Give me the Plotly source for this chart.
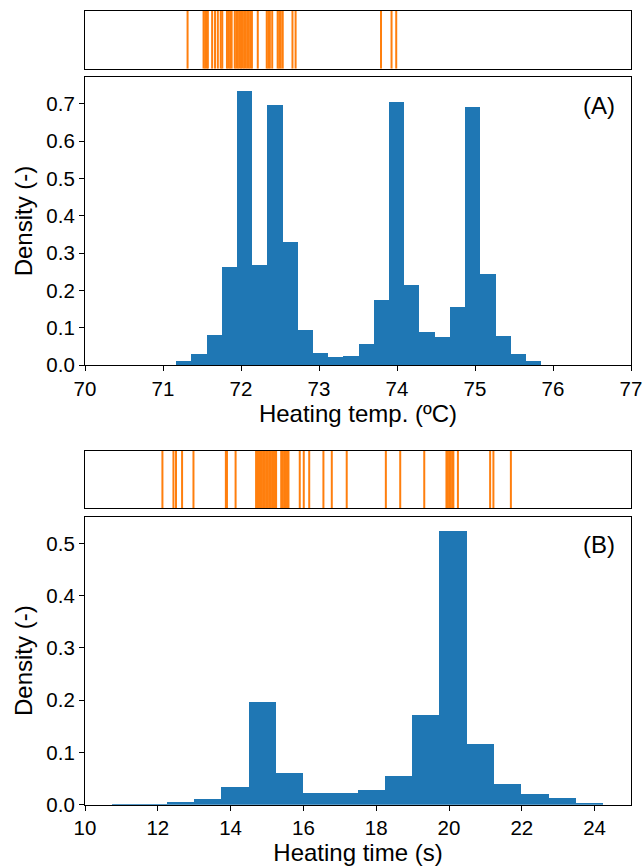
import numpy as np
import plotly.graph_objects as go

# ---------------- data ----------------
# Panel A: heating temperature histogram (density)
temp_bin_start = 71.168
temp_bin_width = 0.195
temp_density = [0.0107, 0.0295, 0.080, 0.2625, 0.734, 0.268, 0.696, 0.329,
                0.094, 0.033, 0.0214, 0.024, 0.057, 0.174, 0.705, 0.214,
                0.088, 0.075, 0.156, 0.691, 0.244, 0.078, 0.0295, 0.0107]
temp_rug = [71.315, 71.52, 71.54, 71.56, 71.575, 71.63, 71.667, 71.703,
            71.74, 71.76, 71.82, 71.84, 71.86, 71.88,
            71.92, 71.94, 71.96, 71.98, 72.00, 72.02, 72.04, 72.06, 72.08,
            72.10, 72.12, 72.14, 72.215, 72.33, 72.35, 72.37, 72.40,
            72.47, 72.49, 72.51, 72.535, 72.66, 72.70, 73.795, 73.93, 73.99]
temp_ticks = [70, 71, 72, 73, 74, 75, 76, 77]
temp_yticks = [0.0, 0.1, 0.2, 0.3, 0.4, 0.5, 0.6, 0.7]

# Panel B: heating time histogram (density)
time_bin_start = 10.75
time_bin_width = 0.749
time_density = [0.0013, 0.0013, 0.005, 0.011, 0.034, 0.198, 0.0605, 0.0223,
                0.0223, 0.028, 0.0548, 0.173, 0.525, 0.116, 0.0395, 0.0204,
                0.0127, 0.0045]
time_rug = [12.127, 12.43, 12.50, 12.667, 12.98, 13.87, 13.90, 14.137,
            14.70, 14.74, 14.78, 14.82, 14.86, 14.90, 14.94, 14.98, 15.02,
            15.06, 15.10, 15.14, 15.18, 15.22, 15.25,
            15.39, 15.43, 15.47, 15.51, 15.55, 15.59,
            15.90, 16.01, 16.16, 16.55, 16.78, 17.19, 18.265, 18.66, 19.32,
            19.93, 19.97, 20.01, 20.05, 20.09, 20.12, 20.245,
            21.13, 21.22, 21.70]
time_ticks = [10, 12, 14, 16, 18, 20, 22, 24]
time_yticks = [0.0, 0.1, 0.2, 0.3, 0.4, 0.5]

# ---------------- figure ----------------
W, H = 644, 866
BLUE = "#1f77b4"
ORANGE = "#ff7f0e"
FONT = "Liberation Sans, Arial, sans-serif"


def py(p):
    return 1 - p / H


def rug_xy(vals):
    xs, ys = [], []
    for v in vals:
        xs += [v, v, None]
        ys += [0, 1, None]
    return xs, ys


fig = go.Figure()

# Histograms
t_centers = temp_bin_start + temp_bin_width * (np.arange(len(temp_density)) + 0.5)
fig.add_trace(go.Bar(x=t_centers, y=temp_density, width=temp_bin_width,
                     marker=dict(color=BLUE, line=dict(width=0)),
                     xaxis="x2", yaxis="y2", showlegend=False))
h_centers = time_bin_start + time_bin_width * (np.arange(len(time_density)) + 0.5)
fig.add_trace(go.Bar(x=h_centers, y=time_density, width=time_bin_width,
                     marker=dict(color=BLUE, line=dict(width=0)),
                     xaxis="x4", yaxis="y4", showlegend=False))

# Rugs
rx, ry = rug_xy(temp_rug)
fig.add_trace(go.Scatter(x=rx, y=ry, mode="lines", line=dict(color=ORANGE, width=2),
                         xaxis="x", yaxis="y", showlegend=False, hoverinfo="skip"))
rx, ry = rug_xy(time_rug)
fig.add_trace(go.Scatter(x=rx, y=ry, mode="lines", line=dict(color=ORANGE, width=2),
                         xaxis="x3", yaxis="y3", showlegend=False, hoverinfo="skip"))

xdom = [85 / W, 631 / W]
axis_common = dict(showline=True, linecolor="black", linewidth=1.1, mirror=True,
                   showgrid=False, zeroline=False, automargin=False)
tick_common = dict(ticks="outside", ticklen=5, tickwidth=1.1, tickcolor="black",
                   tickfont=dict(family=FONT, size=20.5, color="black"))
title_font = dict(family=FONT, size=24, color="black")

fig.update_layout(
    width=W, height=H,
    margin=dict(l=0, r=0, t=0, b=0, autoexpand=False),
    paper_bgcolor="white", plot_bgcolor="white",
    bargap=0,
    # rug A
    xaxis=dict(domain=xdom, range=[70, 77], anchor="y", showticklabels=False,
               ticks="", **axis_common),
    yaxis=dict(domain=[py(68.7), py(11)], range=[0, 1], anchor="x",
               showticklabels=False, ticks="", **axis_common),
    # hist A
    xaxis2=dict(domain=xdom, range=[70, 77], anchor="y2", tickvals=temp_ticks,
                ticktext=[str(t) for t in temp_ticks],
                title=dict(text="Heating temp. (ºC)", font=title_font, standoff=1),
                **axis_common, **tick_common),
    yaxis2=dict(domain=[py(365), py(77)], range=[0, 0.772], anchor="x2",
                tickvals=temp_yticks, ticktext=[f"{t:.1f}" for t in temp_yticks],
                title=dict(text="Density (-)", font=title_font, standoff=6),
                **axis_common, **tick_common),
    # rug B
    xaxis3=dict(domain=xdom, range=[10, 25], anchor="y3", showticklabels=False,
                ticks="", **axis_common),
    yaxis3=dict(domain=[py(508.3), py(450.7)], range=[0, 1], anchor="x3",
                showticklabels=False, ticks="", **axis_common),
    # hist B
    xaxis4=dict(domain=xdom, range=[10, 25], anchor="y4", tickvals=time_ticks,
                ticktext=[str(t) for t in time_ticks],
                title=dict(text="Heating time (s)", font=title_font, standoff=1),
                **axis_common, **tick_common),
    yaxis4=dict(domain=[py(804.7), py(516.7)], range=[0, 0.551], anchor="x4",
                tickvals=time_yticks, ticktext=[f"{t:.1f}" for t in time_yticks],
                title=dict(text="Density (-)", font=title_font, standoff=6),
                **axis_common, **tick_common),
    annotations=[
        dict(text="(A)", xref="x2 domain", yref="y2 domain", x=0.974, y=0.902,
             xanchor="right", yanchor="middle", showarrow=False,
             font=dict(family=FONT, size=24, color="black")),
        dict(text="(B)", xref="x4 domain", yref="y4 domain", x=0.974, y=0.902,
             xanchor="right", yanchor="middle", showarrow=False,
             font=dict(family=FONT, size=24, color="black")),
    ],
)

fig.write_html("out.html", config={"displayModeBar": False},
               post_script="document.body.style.margin='0';document.body.style.overflow='hidden';")
